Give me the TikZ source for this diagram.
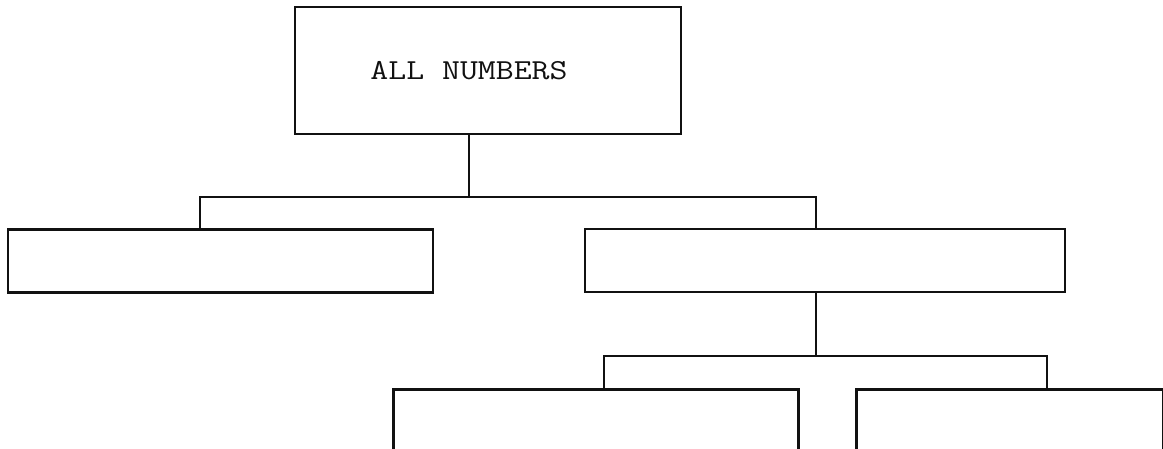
\documentclass[tikz,border=0pt]{standalone}
\usepackage{fontspec}
\newfontfamily\numfont[FakeStretch=1.2]{Latin Modern Mono}
\usepackage{xcolor}
\usepackage{tikz}
\usetikzlibrary{positioning, calc}
\definecolor{inkdraw}{HTML}{111111}
\tikzset{
  blk/.style={rectangle, draw=inkdraw, line width=2.6pt, inner sep=0pt},
  topblk/.style={blk, minimum width=386pt, minimum height=127pt},
  midblk/.style={blk, minimum height=63pt},
  lowblk/.style={blk, minimum height=90pt, anchor=north west},
  ttl/.style={font=\numfont\fontsize{29}{34}\selectfont, text=inkdraw, inner sep=0pt},
  conn/.style={line width=2.6pt, draw=inkdraw},
}
\begin{document}
\begin{tikzpicture}[x=1pt, y=-1pt]
  \useasboundingbox (0,0) rectangle (1163,448);
  \node[topblk] (allnum) at (488,70.5) {};
  \node[ttl] (allnumtxt) at (469,71) {ALL NUMBERS};
  \node[midblk, minimum width=425pt] (lft) at (220.5,261) {};
  \node[midblk, minimum width=480pt] (rgt) at (825,260.5) {};
  \node[lowblk, minimum width=405pt] (lowl) at (392,388) {};
  \node[lowblk, minimum width=307pt] (lowr) at (855,388) {};
  \coordinate (sp1) at (469,197);
  \coordinate (sp1l) at (200,197);
  \coordinate (sp1r) at (816,197);
  \coordinate (sp2) at (816,356);
  \coordinate (sp2l) at (604,356);
  \coordinate (sp2r) at (1047,356);
  \draw[conn] (allnum.south -| sp1) -- (sp1);
  \draw[conn] (lft.north -| sp1l) |- (sp1r) -- (rgt.north -| sp1r);
  \draw[conn] (rgt.south -| sp2) -- (sp2);
  \draw[conn] (lowl.north -| sp2l) |- (sp2r) -- (lowr.north -| sp2r);
\end{tikzpicture}
\end{document}
